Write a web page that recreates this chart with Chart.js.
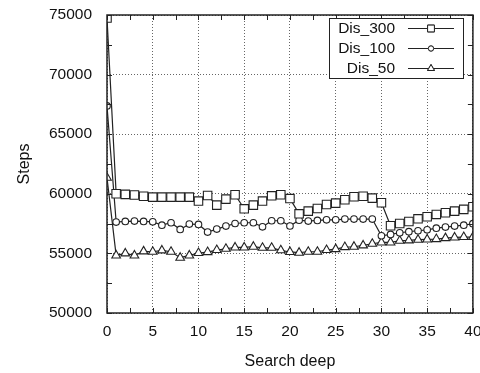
<!doctype html>
<html>
<head>
<meta charset="utf-8" />
<title>Steps vs search deep</title>
<script src="https://cdn.jsdelivr.net/npm/chart.js@4.4.1/dist/chart.umd.min.js"></script>
<style>
  body { margin: 0; background: #fff; }
  canvas { display: block; }
</style>
</head>
<body>
<canvas id="stepsChart" width="480" height="373"></canvas>
<script>
    // values
    var depth = [0, 1, 2, 3, 4, 5, 6, 7, 8, 9, 10, 11, 12, 13, 14, 15, 16, 17, 18, 19, 20,
        21, 22, 23, 24, 25, 26, 27, 28, 29, 30, 31, 32, 33, 34, 35, 36, 37, 38, 39, 40];
    var dis300 = [74750, 60000, 59950, 59900, 59800, 59720, 59720, 59720, 59720, 59720, 59390,
        59860, 59050, 59550, 59920, 58740, 59050, 59390, 59830, 59920, 59600,
        58320, 58550, 58770, 59100, 59220, 59500, 59750, 59800, 59640, 59250,
        57320, 57510, 57680, 57900, 58070, 58270, 58410, 58550, 58690, 58910];
    var dis100 = [67370, 57630, 57680, 57710, 57680, 57650, 57370, 57570, 57010, 57460, 57430,
        56790, 57040, 57290, 57510, 57570, 57570, 57230, 57740, 57740, 57300,
        57790, 57710, 57770, 57820, 57820, 57880, 57880, 57880, 57880, 56480,
        56590, 56730, 56820, 56900, 56980, 57120, 57210, 57290, 57370, 57490];
    var dis50 = [61350, 54830, 55000, 54830, 55170, 55140, 55250, 55140, 54640, 54830, 55030,
        55110, 55280, 55390, 55500, 55500, 55560, 55470, 55470, 55260, 55120,
        55060, 55140, 55140, 55280, 55360, 55530, 55560, 55670, 55810, 55920,
        55920, 56060, 56090, 56150, 56170, 56200, 56280, 56340, 56370, 56370];
    var seriesNames = ["Dis_300", "Dis_100", "Dis_50"];
    var xTicks = [0, 5, 10, 15, 20, 25, 30, 35, 40];
    var yTicks = [50000, 55000, 60000, 65000, 70000, 75000];

    var ink = "#222";
    var fontName = "'Liberation Sans', Arial, sans-serif";

    function toPoints(values) {
        return values.map(function (v, i) { return { x: depth[i], y: v }; });
    }

    function series(label, values, style, radius) {
        return {
            label: label,
            data: toPoints(values),
            borderColor: ink,
            borderWidth: 1.2,
            pointStyle: style,
            pointRadius: radius,
            pointBorderWidth: 1.1,
            pointBorderColor: ink,
            pointBackgroundColor: "#fff",
            tension: 0
        };
    }

    // frame with inward ticks on all four sides, like the original plot
    var framePlugin = {
        id: "frame",
        afterDatasetsDraw: function (chart) {
            var ctx = chart.ctx, a = chart.chartArea;
            var xs = chart.scales.x, ys = chart.scales.y;
            ctx.save();
            ctx.strokeStyle = ink;
            ctx.lineWidth = 1;
            ctx.beginPath();
            for (var xv = xs.min; xv <= xs.max; xv += 2.5) {
                var px = Math.round(xs.getPixelForValue(xv)) + 0.5;
                ctx.moveTo(px, a.bottom); ctx.lineTo(px, a.bottom - 5);
                ctx.moveTo(px, a.top); ctx.lineTo(px, a.top + 5);
            }
            for (var yv = ys.min; yv <= ys.max; yv += 2500) {
                var py = Math.round(ys.getPixelForValue(yv)) + 0.5;
                ctx.moveTo(a.left, py); ctx.lineTo(a.left + 5, py);
                ctx.moveTo(a.right, py); ctx.lineTo(a.right - 5, py);
            }
            ctx.stroke();
            ctx.lineWidth = 1.5;
            ctx.strokeRect(a.left, a.top, a.right - a.left, a.bottom - a.top);
            ctx.restore();
        }
    };

    // legend box: name on the left, line sample with marker on the right
    var legendPlugin = {
        id: "boxLegend",
        afterDraw: function (chart) {
            var ctx = chart.ctx;
            var bx = 329, by = 18, bw = 134, bh = 60;
            ctx.save();
            ctx.fillStyle = "#fff";
            ctx.fillRect(bx, by, bw, bh);
            ctx.strokeStyle = ink;
            ctx.lineWidth = 1;
            ctx.strokeRect(bx + 0.5, by + 0.5, bw, bh);
            ctx.font = "15.5px " + fontName;
            ctx.textAlign = "right";
            ctx.textBaseline = "middle";
            chart.data.datasets.forEach(function (ds, i) {
                var rowY = by + 10.5 + i * 20;
                ctx.fillStyle = "#111";
                ctx.fillText(ds.label, bx + 66, rowY);
                ctx.strokeStyle = ink;
                ctx.lineWidth = 1;
                ctx.beginPath();
                ctx.moveTo(bx + 79, rowY);
                ctx.lineTo(bx + 125, rowY);
                ctx.stroke();
                ctx.fillStyle = "#fff";
                Chart.helpers.drawPoint(ctx, {
                    pointStyle: ds.pointStyle,
                    radius: ds.pointRadius * 0.8,
                    borderWidth: 1,
                    rotation: 0
                }, bx + 102, rowY);
                ctx.fill();
                ctx.stroke();
            });
            ctx.restore();
        }
    };

    var ctx = document.getElementById("stepsChart").getContext("2d");
    var myChart = new Chart(ctx, {
        type: "line",
        data: {
            datasets: [
                series(seriesNames[0], dis300, "rect", 6),
                series(seriesNames[1], dis100, "circle", 3.3),
                series(seriesNames[2], dis50, "triangle", 5)
            ]
        },
        options: {
            responsive: false,
            animation: false,
            layout: { padding: { left: 0, top: 15, right: 7, bottom: 0 } },
            plugins: {
                legend: { display: false },
                tooltip: { enabled: false }
            },
            scales: {
                x: {
                    type: "linear",
                    min: xTicks[0],
                    max: xTicks[xTicks.length - 1],
                    afterBuildTicks: function (scale) {
                        scale.ticks = xTicks.map(function (v) { return { value: v }; });
                    },
                    afterFit: function (scale) {
                        scale.height = 60;
                        scale.paddingLeft = 0;
                        scale.paddingRight = 0;
                    },
                    grid: { color: "#666", lineWidth: 1, drawTicks: false },
                    border: { display: false, dash: [1, 2] },
                    ticks: {
                        padding: 9,
                        maxRotation: 0,
                        color: "#111",
                        font: { family: fontName, size: 15.5 }
                    },
                    title: {
                        display: true,
                        text: "Search deep",
                        color: "#111",
                        padding: { top: 0, bottom: 2 },
                        font: { family: fontName, size: 16 }
                    }
                },
                y: {
                    min: yTicks[0],
                    max: yTicks[yTicks.length - 1],
                    afterBuildTicks: function (scale) {
                        scale.ticks = yTicks.map(function (v) { return { value: v }; });
                    },
                    afterFit: function (scale) {
                        scale.width = 107;
                        scale.paddingTop = 0;
                        scale.paddingBottom = 0;
                    },
                    grid: { color: "#666", lineWidth: 1, drawTicks: false },
                    border: { display: false, dash: [1, 2] },
                    ticks: {
                        padding: 15,
                        color: "#111",
                        font: { family: fontName, size: 15.5 },
                        callback: function (v) { return String(v); }
                    },
                    title: {
                        display: true,
                        text: "Steps",
                        color: "#111",
                        padding: { top: 15, bottom: 0 },
                        font: { family: fontName, size: 16 }
                    }
                }
            }
        },
        plugins: [framePlugin, legendPlugin]
    });
</script>
</body>
</html>
